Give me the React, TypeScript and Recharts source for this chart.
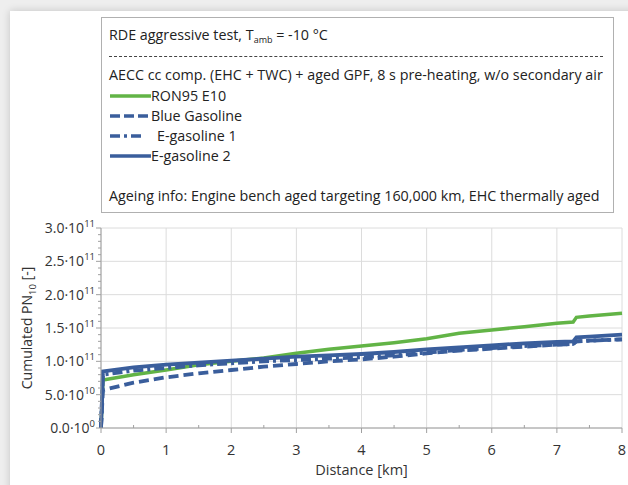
import React from "react";
import { LineChart, Line, XAxis, YAxis, CartesianGrid } from "recharts";

// distance [km] shared by all series
const DISTANCE = [0, 0.03, 0.5, 1, 1.5, 2, 2.5, 3, 3.5, 4, 4.5, 5, 5.5, 6, 6.5, 7, 7.25, 7.3, 7.5, 8];

// cumulated PN10 [-]
const RON95_E10 = [0, 7.2e10, 8.0e10, 8.7e10, 9.5e10, 1.0e11, 1.05e11, 1.12e11, 1.18e11, 1.23e11, 1.28e11, 1.34e11, 1.42e11, 1.47e11, 1.52e11, 1.57e11, 1.59e11, 1.66e11, 1.68e11, 1.72e11];
const BLUE_GASOLINE = [0, 5.7e10, 6.8e10, 7.6e10, 8.2e10, 8.7e10, 9.2e10, 9.6e10, 1.0e11, 1.03e11, 1.07e11, 1.12e11, 1.16e11, 1.19e11, 1.22e11, 1.25e11, 1.26e11, 1.3e11, 1.31e11, 1.33e11];
const E_GASOLINE_1 = [0, 8.0e10, 8.6e10, 9.0e10, 9.4e10, 9.7e10, 1.0e11, 1.02e11, 1.04e11, 1.06e11, 1.09e11, 1.13e11, 1.17e11, 1.2e11, 1.23e11, 1.25e11, 1.26e11, 1.3e11, 1.31e11, 1.33e11];
const E_GASOLINE_2 = [0, 8.5e10, 9.1e10, 9.5e10, 9.8e10, 1.01e11, 1.04e11, 1.07e11, 1.09e11, 1.11e11, 1.14e11, 1.18e11, 1.21e11, 1.24e11, 1.27e11, 1.29e11, 1.3e11, 1.36e11, 1.37e11, 1.4e11];

const X_TICKS = [0, 1, 2, 3, 4, 5, 6, 7, 8];
const X_ALL = [0, 0.5, 1, 1.5, 2, 2.5, 3, 3.5, 4, 4.5, 5, 5.5, 6, 6.5, 7, 7.5, 8];
const Y_TICKS = [0, 5e10, 1e11, 1.5e11, 2e11, 2.5e11, 3e11];
const Y_ALL = [0, 1e10, 2e10, 3e10, 4e10, 5e10, 6e10, 7e10, 8e10, 9e10, 1e11, 1.1e11, 1.2e11, 1.3e11, 1.4e11, 1.5e11, 1.6e11, 1.7e11, 1.8e11, 1.9e11, 2e11, 2.1e11, 2.2e11, 2.3e11, 2.4e11, 2.5e11, 2.6e11, 2.7e11, 2.8e11, 2.9e11, 3e11];

const GREEN = "#62b446";
const BLUE = "#3a5e9c";
const AXIS = "#a0a0a0";
const FONT = "'Open Sans', sans-serif";

const SERIES = [
  { key: "ron", name: "RON95 E10", color: GREEN, dash: undefined as string | undefined, width: 3.5 },
  { key: "blue", name: "Blue Gasoline", color: BLUE, dash: "10 5", width: 3.8 },
  { key: "e1", name: "E-gasoline 1", color: BLUE, dash: "10 4 3 4", width: 3.8 },
  { key: "e2", name: "E-gasoline 2", color: BLUE, dash: undefined as string | undefined, width: 3.8 },
];

const data = DISTANCE.map((d, i) => ({
  dist: d,
  ron: RON95_E10[i],
  blue: BLUE_GASOLINE[i],
  e1: E_GASOLINE_1[i],
  e2: E_GASOLINE_2[i],
}));

const isMajorY = (v: number) => Y_TICKS.some((t) => Math.abs(t - v) < 1);

function YTick(props: any) {
  const { x, y, payload } = props;
  const v = payload.value as number;
  const major = isMajorY(v);
  // x is tick position minus tickSize and tickMargin
  const ax = x + 7;
  if (!major) {
    return <line x1={ax - 3} y1={y} x2={ax} y2={y} stroke={AXIS} />;
  }
  const exp = v === 0 ? 0 : Math.floor(Math.log10(v) + 1e-9);
  const mant = v === 0 ? 0 : v / Math.pow(10, exp);
  return (
    <g>
      <line x1={ax - 5} y1={y} x2={ax} y2={y} stroke={AXIS} />
      <text x={ax - 6} y={y + 5} textAnchor="end" fill="#333" fontFamily={FONT} fontSize={14}>
        <tspan>{mant.toFixed(1)}·10</tspan>
        <tspan fontSize={9.5} dy={-6}>{exp}</tspan>
      </text>
    </g>
  );
}

function XTick(props: any) {
  const { x, y, payload } = props;
  const v = payload.value as number;
  const ay = y - 7;
  if (!X_TICKS.includes(v)) {
    return <line x1={x} y1={ay - 3} x2={x} y2={ay} stroke={AXIS} />;
  }
  return (
    <g>
      <line x1={x} y1={ay} x2={x} y2={ay + 5} stroke={AXIS} />
      <text x={x} y={ay + 27} textAnchor="middle" fill="#333" fontFamily={FONT} fontSize={14.5}>
        {v}
      </text>
    </g>
  );
}

function YLabel(props: any) {
  const { viewBox } = props;
  const cx = 22;
  const cy = viewBox.y + viewBox.height / 2;
  return (
    <text
      x={cx}
      y={cy}
      transform={`rotate(-90 ${cx} ${cy})`}
      textAnchor="middle"
      fill="#333"
      fontFamily={FONT}
      fontSize={14}
    >
      <tspan>Cumulated PN</tspan>
      <tspan fontSize={9.5} dy={4}>10</tspan>
      <tspan dy={-4}> [-]</tspan>
    </text>
  );
}

function LegendBox() {
  const row = (top: number) => ({ position: "absolute" as const, left: 7, top, whiteSpace: "nowrap" as const });
  return (
    <div
      style={{
        position: "absolute",
        left: 91,
        top: 6,
        width: 513,
        height: 196,
        border: "1px solid #b0b0b0",
        boxSizing: "border-box",
        background: "#fff",
        fontFamily: FONT,
        fontSize: 14.3,
        color: "#222",
        lineHeight: "18px",
      }}
    >
      <div style={row(8)}>
        RDE aggressive test, T<sub style={{ fontSize: 9, verticalAlign: "-3px" }}>amb</sub> = -10 °C
      </div>
      <div style={{ position: "absolute", left: 7, right: 10, top: 38, borderTop: "1px dashed #444" }} />
      <div style={row(48)}>AECC cc comp. (EHC + TWC) + aged GPF, 8 s pre-heating, w/o secondary air</div>
      {SERIES.map((s, i) => (
        <div key={s.key} style={{ ...row(69 + i * 20), display: "flex", alignItems: "center" }}>
          <svg width={42} height={10}>
            <line
              x1={1}
              y1={5}
              x2={s.key === "e1" ? 36 : 42}
              y2={5}
              stroke={s.color}
              strokeWidth={3.5}
              strokeDasharray={s.key === "blue" ? "10 4" : s.dash}
            />
          </svg>
          <span style={{ marginLeft: s.key === "e1" ? 6 : 0 }}>{s.name}</span>
        </div>
      ))}
      <div style={row(169)}>Ageing info: Engine bench aged targeting 160,000 km, EHC thermally aged</div>
    </div>
  );
}

export default function App() {
  return (
    <div style={{ position: "absolute", left: 0, top: 0, width: 628, height: 485, background: "#eeeeee", overflow: "hidden" }}>
      <div
        style={{
          position: "absolute",
          left: 10,
          top: 11,
          width: 630,
          height: 485,
          background: "#fff",
          boxShadow: "0 0 8px rgba(0,0,0,0.18)",
        }}
      >
        <LineChart
          width={618}
          height={474}
          data={data}
          margin={{ top: 217, right: 6, left: 0, bottom: 0 }}
        >
          <CartesianGrid stroke="#dcdcdc" horizontalValues={Y_TICKS} verticalValues={X_TICKS} />
          <XAxis
            dataKey="dist"
            type="number"
            domain={[0, 8]}
            ticks={X_ALL}
            interval={0}
            height={57}
            stroke={AXIS}
            tickLine={false}
            tickSize={5}
            tick={<XTick />}
            label={{ value: "Distance [km]", position: "insideBottom", offset: 10, fill: "#333", fontSize: 14.5, fontFamily: FONT }}
          />
          <YAxis
            type="number"
            domain={[0, 3e11]}
            ticks={Y_ALL}
            interval={0}
            width={91}
            stroke={AXIS}
            tickLine={false}
            tickSize={5}
            tick={<YTick />}
            label={<YLabel />}
          />
          {SERIES.map((s) => (
            <Line
              key={s.key}
              dataKey={s.key}
              name={s.name}
              type="linear"
              stroke={s.color}
              strokeWidth={s.width}
              strokeDasharray={s.dash}
              dot={false}
              isAnimationActive={false}
            />
          ))}
        </LineChart>
        <LegendBox />
      </div>
    </div>
  );
}
